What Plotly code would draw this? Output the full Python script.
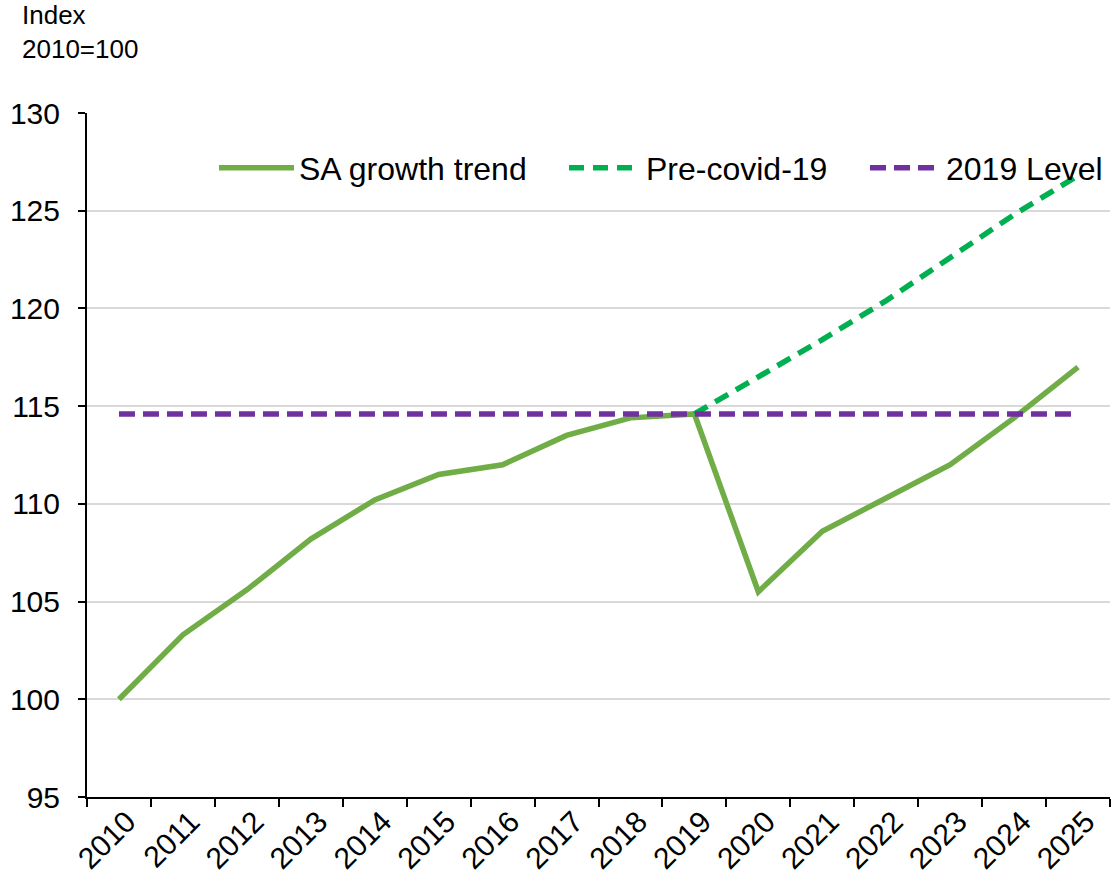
import plotly.graph_objects as go

years = [str(y) for y in range(2010, 2026)]
sa_growth = [100.0, 103.3, 105.6, 108.2, 110.2, 111.5, 112.0, 113.5, 114.4, 114.6,
             105.5, 108.6, 110.3, 112.0, 114.4, 117.0]
pre_covid = [None, None, None, None, None, None, None, None, None, 114.6,
             116.5, 118.4, 120.4, 122.6, 124.8, 126.8]
level_2019 = [114.6] * 16

FONT = "Arial, Liberation Sans, sans-serif"
PL, PW, PT, PH = 87, 1023, 113, 684


def px_x(px):
    return (px - PL) / PW


def px_y(py):
    return (PT + PH - py) / PH


fig = go.Figure()
fig.add_trace(go.Scatter(x=years, y=sa_growth, mode="lines", name="SA growth trend",
                         line=dict(color="#70AD47", width=5.5), legend="legend"))
fig.add_trace(go.Scatter(x=years, y=pre_covid, mode="lines", name="Pre-covid-19",
                         line=dict(color="#00B050", width=5.5, dash="15px,9px"),
                         legend="legend2"))
fig.add_trace(go.Scatter(x=years, y=level_2019, mode="lines", name="2019 Level",
                         line=dict(color="#7030A0", width=5.5, dash="16px,8px"),
                         legend="legend3"))

leg_common = dict(orientation="h", xanchor="left", yanchor="middle",
                  font=dict(size=32), bgcolor="rgba(0,0,0,0)")
fig.update_layout(
    width=1115, height=886,
    margin=dict(l=PL, r=5, t=PT, b=89),
    paper_bgcolor="white", plot_bgcolor="white",
    font=dict(family=FONT, size=30, color="black"),
    showlegend=True,
    legend=dict(x=px_x(214), y=px_y(168), itemwidth=75, **leg_common),
    legend2=dict(x=px_x(564), y=px_y(168), itemwidth=72, **leg_common),
    legend3=dict(x=px_x(865), y=px_y(168), itemwidth=71, **leg_common),
    annotations=[dict(text="Index<br>2010=100", xref="paper", yref="paper",
                      x=px_x(20), y=px_y(-2), xanchor="left", yanchor="top",
                      align="left", showarrow=False, font=dict(size=26))],
)
fig.update_xaxes(type="category", range=[-0.5, 15.5], tickangle=-45,
                 showline=True, linecolor="black", linewidth=2,
                 ticks="outside", ticklen=8, tickwidth=2, tickcolor="black",
                 tickson="boundaries", showgrid=False, ticklabelshift=8,
                 ticklabelstandoff=-7, tickfont=dict(size=30))
fig.update_yaxes(range=[95, 130], dtick=5, showline=True, linecolor="black", linewidth=2,
                 ticks="outside", ticklen=7, tickwidth=2, tickcolor="black",
                 showgrid=True, gridcolor="#d9d9d9", gridwidth=2, zeroline=False,
                 ticklabelstandoff=12, tickfont=dict(size=30))

fig.write_html("out.html")
